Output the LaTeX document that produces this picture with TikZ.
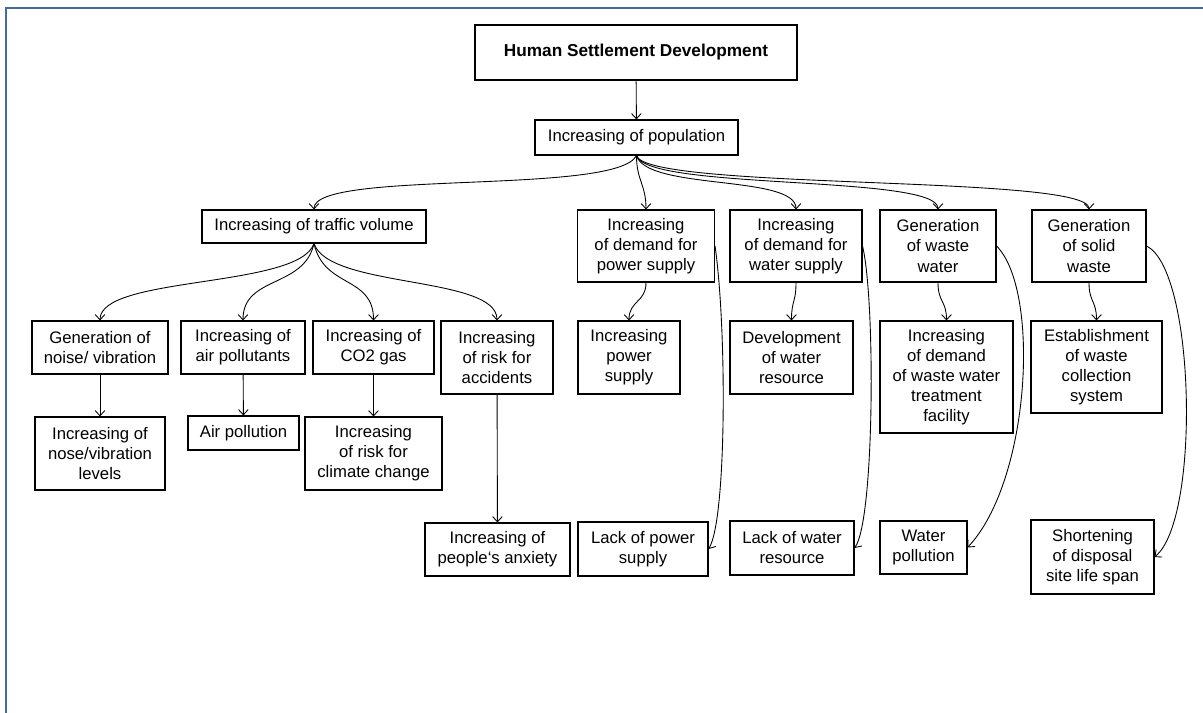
\documentclass[tikz,border=0pt]{standalone}
\usepackage{fontspec}
\setmainfont{Liberation Sans}
\usetikzlibrary{arrows.meta}
\tikzset{
    RB/.style ={rectangle, draw, line width=0.6pt, align=center, inner sep=1pt, font=\fontsize{9.5}{11.4}\selectfont},
    RT/.style ={rectangle, draw, line width=1.7pt, align=center, font=\bfseries\fontsize{9.8}{11.4}\selectfont},
    AR/.style ={-{Straight Barb[length=3pt,width=5.5pt]}, line width=0.5pt}}

\begin{document}
\begin{tikzpicture}
        \useasboundingbox (0,0) rectangle (24.06,-14.26);
        \draw[line width=1.7pt,color={rgb,255:red,70;green,105;blue,165}] (0.12,-14.26) -- (0.12,-0.16) -- (24.06,-0.16);
        \node[RT,minimum width=6.44cm,minimum height=1.1cm] (1) at(12.72,-1.05){Human Settlement Development};
        \node[RB,minimum width=4.06cm,minimum height=0.7cm] (2) at(12.73,-2.75){Increasing of population};
        \node[RB,minimum width=4.48cm,minimum height=0.66cm] (3) at(6.28,-4.53){Increasing of traffic volume};
        \node[RB,minimum width=2.74cm,minimum height=1.44cm] (4) at(12.92,-4.92){Increasing\\of demand for\\power supply};
        \node[RB,minimum width=2.64cm,minimum height=1.44cm] (5) at(15.92,-4.92){Increasing\\of demand for\\water supply};
        \node[RB,minimum width=2.32cm,minimum height=1.44cm] (6) at(18.76,-4.92){Generation\\of waste\\water};
        \node[RB,minimum width=2.28cm,minimum height=1.44cm] (7) at(21.78,-4.92){Generation\\of solid\\waste};
        \node[RB,minimum width=2.72cm,minimum height=1.06cm] (8) at(2.0,-6.95){Generation of\\noise/ vibration};
        \node[RB,minimum width=2.48cm,minimum height=1.06cm] (9) at(4.86,-6.95){Increasing of\\air pollutants};
        \node[RB,minimum width=2.42cm,minimum height=1.06cm] (10) at(7.47,-6.95){Increasing of\\CO2 gas};
        \node[RB,minimum width=2.24cm,minimum height=1.46cm] (11) at(9.94,-7.15){Increasing\\of risk for\\accidents};
        \node[RB,minimum width=2.04cm,minimum height=1.46cm] (12) at(12.58,-7.15){Increasing\\power\\supply};
        \node[RB,minimum width=2.46cm,minimum height=1.46cm] (13) at(15.83,-7.15){Development\\of water\\resource};
        \node[RB,minimum width=2.66cm,minimum height=2.24cm] (14) at(18.93,-7.54){Increasing\\of demand\\of waste water\\treatment\\facility};
        \node[RB,minimum width=2.62cm,minimum height=1.84cm] (15) at(21.93,-7.34){Establishment\\of waste\\collection\\system};
        \node[RB,minimum width=2.6cm,minimum height=1.46cm] (16) at(2.0,-9.07){Increasing of\\nose/vibration\\levels};
        \node[RB,minimum width=2.22cm,minimum height=0.68cm] (17) at(4.87,-8.66){Air pollution};
        \node[RB,minimum width=2.74cm,minimum height=1.46cm] (18) at(7.47,-9.07){Increasing\\of risk for\\climate change};
        \node[RB,minimum width=2.9cm,minimum height=1.06cm] (19) at(9.95,-10.99){Increasing of\\people`s anxiety};
        \node[RB,minimum width=2.6cm,minimum height=1.08cm] (20) at(12.86,-10.98){Lack of power\\supply};
        \node[RB,minimum width=2.48cm,minimum height=1.08cm] (21) at(15.84,-10.96){Lack of water\\resource};
        \node[RB,minimum width=1.74cm,minimum height=1.06cm] (22) at(18.47,-10.95){Water\\pollution};
        \node[RB,minimum width=2.46cm,minimum height=1.48cm] (23) at(21.85,-11.14){Shortening\\of disposal\\site life span};
        \draw[AR] (1) --(2);
        \draw[AR] (2.south) .. controls +(-0.4,-0.8) and +(0,0.8) .. (3.north);
        \draw[AR] (2.south) .. controls +(0,-0.5) and +(0,0.5) .. (4.north);
        \draw[AR] (2.south) .. controls +(0.2,-0.7) and +(0,0.7) .. (5.north);
        \draw[AR] (2.south) .. controls +(0.2,-0.7) and +(0,0.7) .. (6.north);
        \draw[AR] (2.south) .. controls +(0.2,-0.7) and +(0,0.7) .. (7.north);
        \draw[AR] (3.south) .. controls +(-0.3,-0.9) and +(0,0.9) .. (8.north);
        \draw[AR] (3.south) .. controls +(-0.2,-0.9) and +(0,0.9) .. (9.north);
        \draw[AR] (3.south) .. controls +(0.2,-0.9) and +(0,0.9) .. (10.north);
        \draw[AR] (3.south) .. controls +(0.3,-0.9) and +(0,0.9) .. (11.north);
        \draw[AR] (8) --(16);
        \draw[AR] (9) --(17);
        \draw[AR] (10) --(18);
        \draw[AR] (11) --(19);
        \draw[AR] (4.south) .. controls +(0,-0.4) and +(0,0.4) .. (12.north);
        \draw[AR] (5.south) .. controls +(0,-0.4) and +(0,0.4) .. (13.north);
        \draw[AR] (6.south) .. controls +(0,-0.4) and +(0,0.4) .. (14.north);
        \draw[AR] (7.south) .. controls +(0,-0.4) and +(0,0.4) .. (15.north);
        \draw[AR] (4.east) .. controls +(0.24,-1.68) and +(0.36,0.58) .. (20.east);
        \draw[AR] (5.east) .. controls +(0.26,-1.08) and +(0.4,0.56) .. (21.east);
        \draw[AR] (6.east) .. controls +(0.88,-0.88) and +(1.26,1.34) .. (22.east);
        \draw[AR] (7.east) .. controls +(0.98,-0.48) and +(0.92,0.74) .. (23.east);
    \end{tikzpicture}
\end{document}
